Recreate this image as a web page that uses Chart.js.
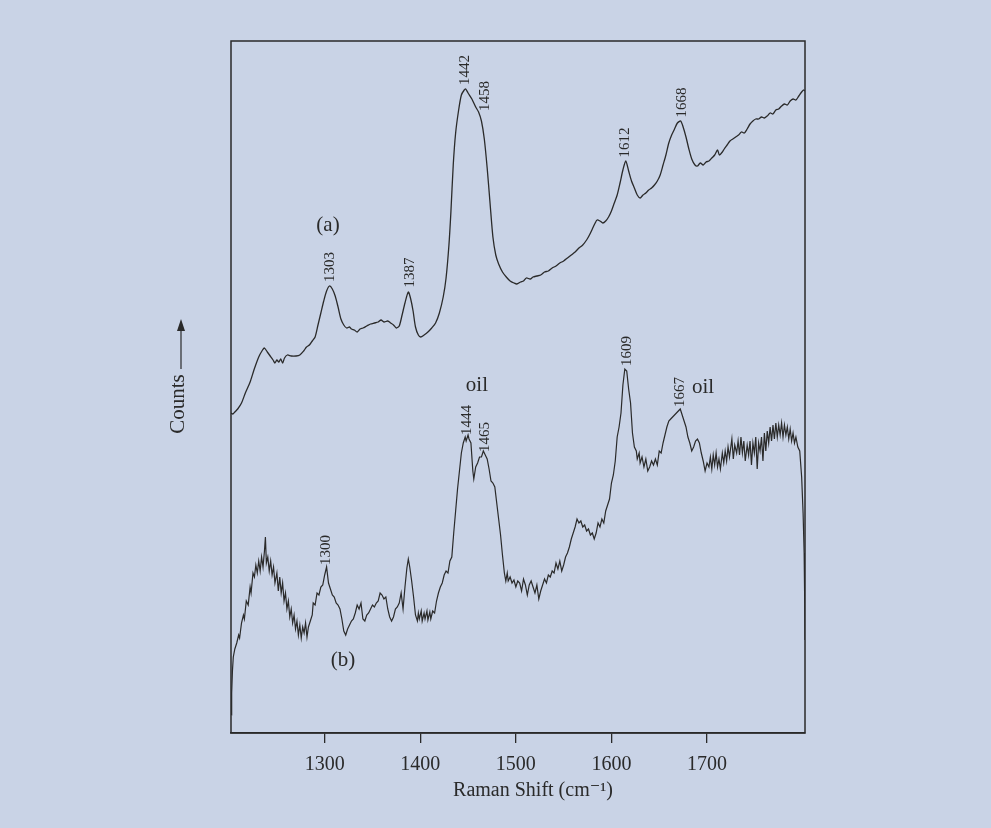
<!DOCTYPE html>
<html>
<head>
<meta charset="utf-8">
<title>Raman spectra</title>
<script src="https://cdn.jsdelivr.net/npm/chart.js@4.4.1/dist/chart.umd.min.js"></script>
<style>
  html, body { margin: 0; padding: 0; background: #c9d3e6; }
  #wrap { width: 991px; height: 828px; position: relative; }
</style>
</head>
<body>
<div id="wrap"><canvas id="grafica"></canvas></div>
<script>
// tick labels of the Raman shift axis
const tickValues = [1300, 1400, 1500, 1600, 1700];

// spectrum (a)
const shiftA = [1202,1204,1206,1209,1213,1217,1222,1226,1231,1235,1237,1240,1243,1246,1248,1250,1252,1254,1256,1258,
  1261,1265,1270,1274,1278,1281,1284,1287,1290,1293,1296,1299,1302,1305,1308,1311,1314,1317,1320,1323,
  1326,1328,1331,1334,1337,1340,1344,1348,1352,1356,1359,1362,1366,1369,1372,1375,1378,1381,1384,1387.5,
  1390,1392.5,1395,1398,1400.5,1404,1408,1412,1416,1420,1424,1427,1430,1432,1434.5,1437,1440,1443,1446,1447.5,
  1450,1454,1458,1461,1464,1467,1470,1473,1476,1479,1482,1486,1490,1494,1498,1501,1505,1508,1511,1515,
  1518,1522,1526,1530,1534,1538,1542,1546,1550,1554,1558,1562,1566,1570,1574,1577,1580,1583,1585,1588,
  1591,1594,1597,1600,1603,1606,1609,1612,1615,1618,1621,1624,1627,1630,1633,1636,1639,1642,1645,1648,
  1651,1654,1657,1660,1663,1666,1669,1672.4,1675,1678,1681,1684,1687.4,1690,1693,1696,1699,1702,1705,1708,
  1711,1713,1716,1718,1721,1724,1727,1730,1733,1736,1739,1742,1745,1748,1751,1754,1757,1760,1763,1766,
  1769,1772,1775,1778,1781,1784,1787,1790,1793,1796,1799,1801,1802.5];
const countsA = [320,319,321,324,330,340,351,363,376,383,385,381,377,373,370,373,371,374,370,375,
  378,377,377,378,382,386,388,392,396,408,420,432,442,447,444,437,426,414,408,405,
  406,404,403,401,404,405,407,409,410,411,413,411,412,410,408,405,407,418,430,441,
  434,422,406,398,396,398,401,405,410,420,436,455,488,520,568,600,622,638,643,644,
  640,634,626,621,612,594,565,530,496,478,469,461,456,452,450,449,451,452,455,454,
  456,457,458,461,462,465,467,470,472,475,478,481,485,488,493,498,504,510,513,512,
  510,512,516,522,530,538,550,563,572,562,552,545,538,535,538,540,543,545,548,552,
  558,568,578,590,598,604,610,612,606,596,584,574,568,567,570,568,571,572,575,578,
  583,578,581,584,588,592,594,596,598,601,600,604,609,612,614,614,616,615,617,620,
  619,623,624,627,629,628,632,634,633,637,641,643,642];

// spectrum (b)
const shiftB = [1202.5,1202.7,1203.5,1204.4,1206,1208,1210,1211,1213,1215,1216,1218,1220,1222,1223,1225,1226.5,1228,1229.5,
  1231,1232.5,1234,1235.5,1237,1238,1239,1240.5,1242,1243.5,1245,1246.5,1248,1250,1251.5,1253,
  1254.5,1256,1257.5,1259,1260.5,1262,1263.5,1265,1266.5,1268,1269.5,1271,1272.5,1274,1275.5,1277,1278.5,1280,1281.5,1283,
  1285,1287,1288,1290,1292,1294,1296,1298,1300,1302,1304,1306,1308,1310,1312,1314,1316,1318,1320,
  1322,1324,1326,1328,1330,1332,1334,1336,1338,1340,1342,1344,1346,1348,1350,1352,1354,1356,1358,1360,
  1362,1364,1366,1368,1370,1372,1374,1376,1378,1380,1382,1384,1386,1387.5,1389,1391,1393,1395,1397,1398,
  1399,1401,1402,1404,1405,1407,1408,1410,1411,1413,1415,1417,1419,1421,1423,1425,1427,1429,1431,1433,
  1435,1437,1439,1441,1443,1445,1447,1448,1450,1451,1453,1455,1456,1458,1460,1462,1464,1466,1468,1470,
  1472,1474,1476,1478,1480,1482,1484,1486,1488,1489.5,1491,1492,1494,1496,1498,1500,1502,1504,1506,1508,
  1510,1512,1514,1516,1518,1520,1522,1524,1526,1528,1530,1532,1534,1536,1538,1540,1542,1544,1546,1548,
  1550,1552,1554,1556,1558,1560,1562,1564,1566,1568,1570,1572,1574,1576,1578,1580,1582,1584,1586,1588,
  1590,1592,1594,1596,1598,1600,1602,1604,1606,1608,1610,1612,1614,1616,1618,1620,1622,1624,1626,1627,
  1629,1630,1632,1634,1636,1638,1640,1642,1644,1646,1648,1650,1652,1654,1656,1658,1660,1662,1664,1666,
  1668,1670,1672,1674,1676,1678,1680,1682,1684,1686,1688,1690,1692,1694,1696,1698,1700,1702,1703.5,1705,
  1706.5,1708,1709.5,1711,1712.5,1714,1716,1717.5,1719,1720.5,1722,1723.5,1726,1727.5,1729,1731,1732.5,1734,1735.5,1737,
  1738.5,1740,1742,1743.5,1745,1746.5,1748,1749.5,1751,1752.5,1754,1755.5,1757,1758.5,1760,1761.5,1763,1764.5,1766,1767.5,
  1769,1770.5,1772,1773.5,1775,1776.5,1778,1779.5,1781,1782.5,1784,1785.5,1787,1788.5,1790,1791.5,1793,1795,1797,1799,
  1800.5,1801.6,1802.2,1802.5];
const countsB = [18,40,62,76,84,90,98,95,110,118,114,132,128,146,140,160,156,168,160,
  172,162,176,166,182,196,170,176,162,172,158,166,150,160,142,156,
  140,150,132,140,124,132,116,124,110,118,104,112,98,108,95,106,100,110,96,106,
  112,118,130,128,140,138,146,148,158,166,150,144,138,136,130,128,124,114,102,
  98,104,108,112,114,120,128,124,130,114,112,118,120,124,128,126,130,132,140,138,
  134,136,124,116,112,116,124,126,130,140,124,146,165,174,166,152,136,118,112,120,
  114,122,112,120,114,122,113,121,114,122,120,132,140,146,150,158,162,160,172,176,
  200,222,244,262,280,290,296,292,298,294,290,262,254,266,270,276,276,282,278,274,
  264,252,250,246,230,214,198,178,160,152,160,152,156,150,153,146,152,150,142,154,
  148,138,148,152,146,140,148,134,142,148,154,150,158,156,162,160,170,164,172,162,
  168,176,180,186,194,200,206,214,210,212,206,208,202,204,198,200,194,200,210,206,
  214,210,222,228,234,250,258,272,296,306,320,348,364,362,344,330,300,286,282,274,
  280,270,276,266,274,262,266,272,268,274,268,282,280,290,298,306,312,314,316,318,
  320,322,324,318,312,306,296,290,282,286,292,294,290,280,272,262,270,266,276,264,
  278,268,280,266,274,264,280,270,282,272,286,276,294,274,288,280,292,278,296,280,
  292,272,288,278,292,268,290,280,296,264,290,282,296,272,300,282,302,290,306,292,
  308,294,310,296,308,298,310,296,308,298,306,294,304,292,300,290,296,286,282,256,
  220,180,130,93];

// peak labels (rotated) and plain labels
const peakText = ["1303", "1387", "1442", "1458", "1612", "1668", "1300", "1444", "1465", "1609", "1667"];
const peakX = [1305.6, 1389.2, 1446.8, 1467.7, 1614.2, 1673.5, 1301.4, 1448.9, 1467.7, 1616.3, 1671.7];
const peakY = [466, 460.5, 663, 637, 590.5, 630.5, 183, 313, 296, 382, 341];

const noteText = ["(a)", "(b)", "oil", "oil"];
const noteX = [1303.5, 1319.2, 1459.3, 1695.8];
const noteY = [508, 73, 348, 346];

const ink = "#2a2a2a";
const serif = "'Liberation Serif', 'DejaVu Serif', serif";

function puntos(xs, ys) {
  return xs.map((x, i) => ({ x: x, y: ys[i] }));
}

const anotaciones = {
  id: "anotaciones",
  afterDatasetsDraw(chart) {
    const ctx = chart.ctx;
    const a = chart.chartArea;
    const sx = chart.scales.x, sy = chart.scales.y;
    ctx.save();
    // frame
    ctx.strokeStyle = ink;
    ctx.lineWidth = 1.5;
    ctx.strokeRect(a.left, a.top, a.right - a.left, a.bottom - a.top);

    ctx.fillStyle = ink;
    ctx.textAlign = "center";
    ctx.textBaseline = "middle";

    // rotated peak positions
    ctx.font = "15px " + serif;
    peakText.forEach((t, i) => {
      ctx.save();
      ctx.translate(sx.getPixelForValue(peakX[i]), sy.getPixelForValue(peakY[i]));
      ctx.rotate(-Math.PI / 2);
      ctx.fillText(t, 0, 0);
      ctx.restore();
    });

    ctx.font = "21px " + serif;
    noteText.forEach((t, i) => {
      ctx.fillText(t, sx.getPixelForValue(noteX[i]), sy.getPixelForValue(noteY[i]));
    });

    // axis title
    ctx.font = "20px " + serif;
    ctx.fillText("Raman Shift (cm\u207B\u00B9)", a.left + 302, a.bottom + 58);

    // Counts with arrow
    ctx.save();
    ctx.translate(a.left - 53, a.top + 363);
    ctx.rotate(-Math.PI / 2);
    ctx.font = "21px " + serif;
    ctx.fillText("Counts", 0, 0);
    ctx.restore();
    const ax = a.left - 50;
    ctx.lineWidth = 1.2;
    ctx.beginPath();
    ctx.moveTo(ax, a.top + 328);
    ctx.lineTo(ax, a.top + 281);
    ctx.stroke();
    ctx.beginPath();
    ctx.moveTo(ax, a.top + 278);
    ctx.lineTo(ax - 4, a.top + 290);
    ctx.lineTo(ax + 4, a.top + 290);
    ctx.closePath();
    ctx.fill();
    ctx.restore();
  }
};

new Chart(document.getElementById("grafica").getContext("2d"), {
  type: "line",
  data: {
    datasets: [
      { label: "(a)", data: puntos(shiftA, countsA), borderColor: ink, borderWidth: 1.3, pointRadius: 0, tension: 0.25, fill: false },
      { label: "(b)", data: puntos(shiftB, countsB), borderColor: ink, borderWidth: 1.2, pointRadius: 0, tension: 0, fill: false }
    ]
  },
  options: {
    responsive: true,
    maintainAspectRatio: false,
    animation: false,
    layout: { padding: { left: 231, right: 186, top: 41, bottom: 0 } },
    plugins: { legend: { display: false }, tooltip: { enabled: false } },
    scales: {
      x: {
        type: "linear",
        min: 1202,
        max: 1802.5,
        afterBuildTicks: (scale) => { scale.ticks = tickValues.map(v => ({ value: v })); },
        afterFit: (scale) => { scale.height = 95; },
        ticks: {
          autoSkip: false,
          maxRotation: 0,
          padding: 10,
          color: ink,
          font: { family: serif, size: 20 },
          callback: (v) => String(v)
        },
        grid: { drawOnChartArea: false, drawTicks: true, tickLength: 10, color: ink, lineWidth: 1.3 },
        border: { display: true, color: ink, width: 1.5 }
      },
      y: { display: false, min: 0, max: 692 }
    }
  },
  plugins: [anotaciones]
});
</script>
</body>
</html>
